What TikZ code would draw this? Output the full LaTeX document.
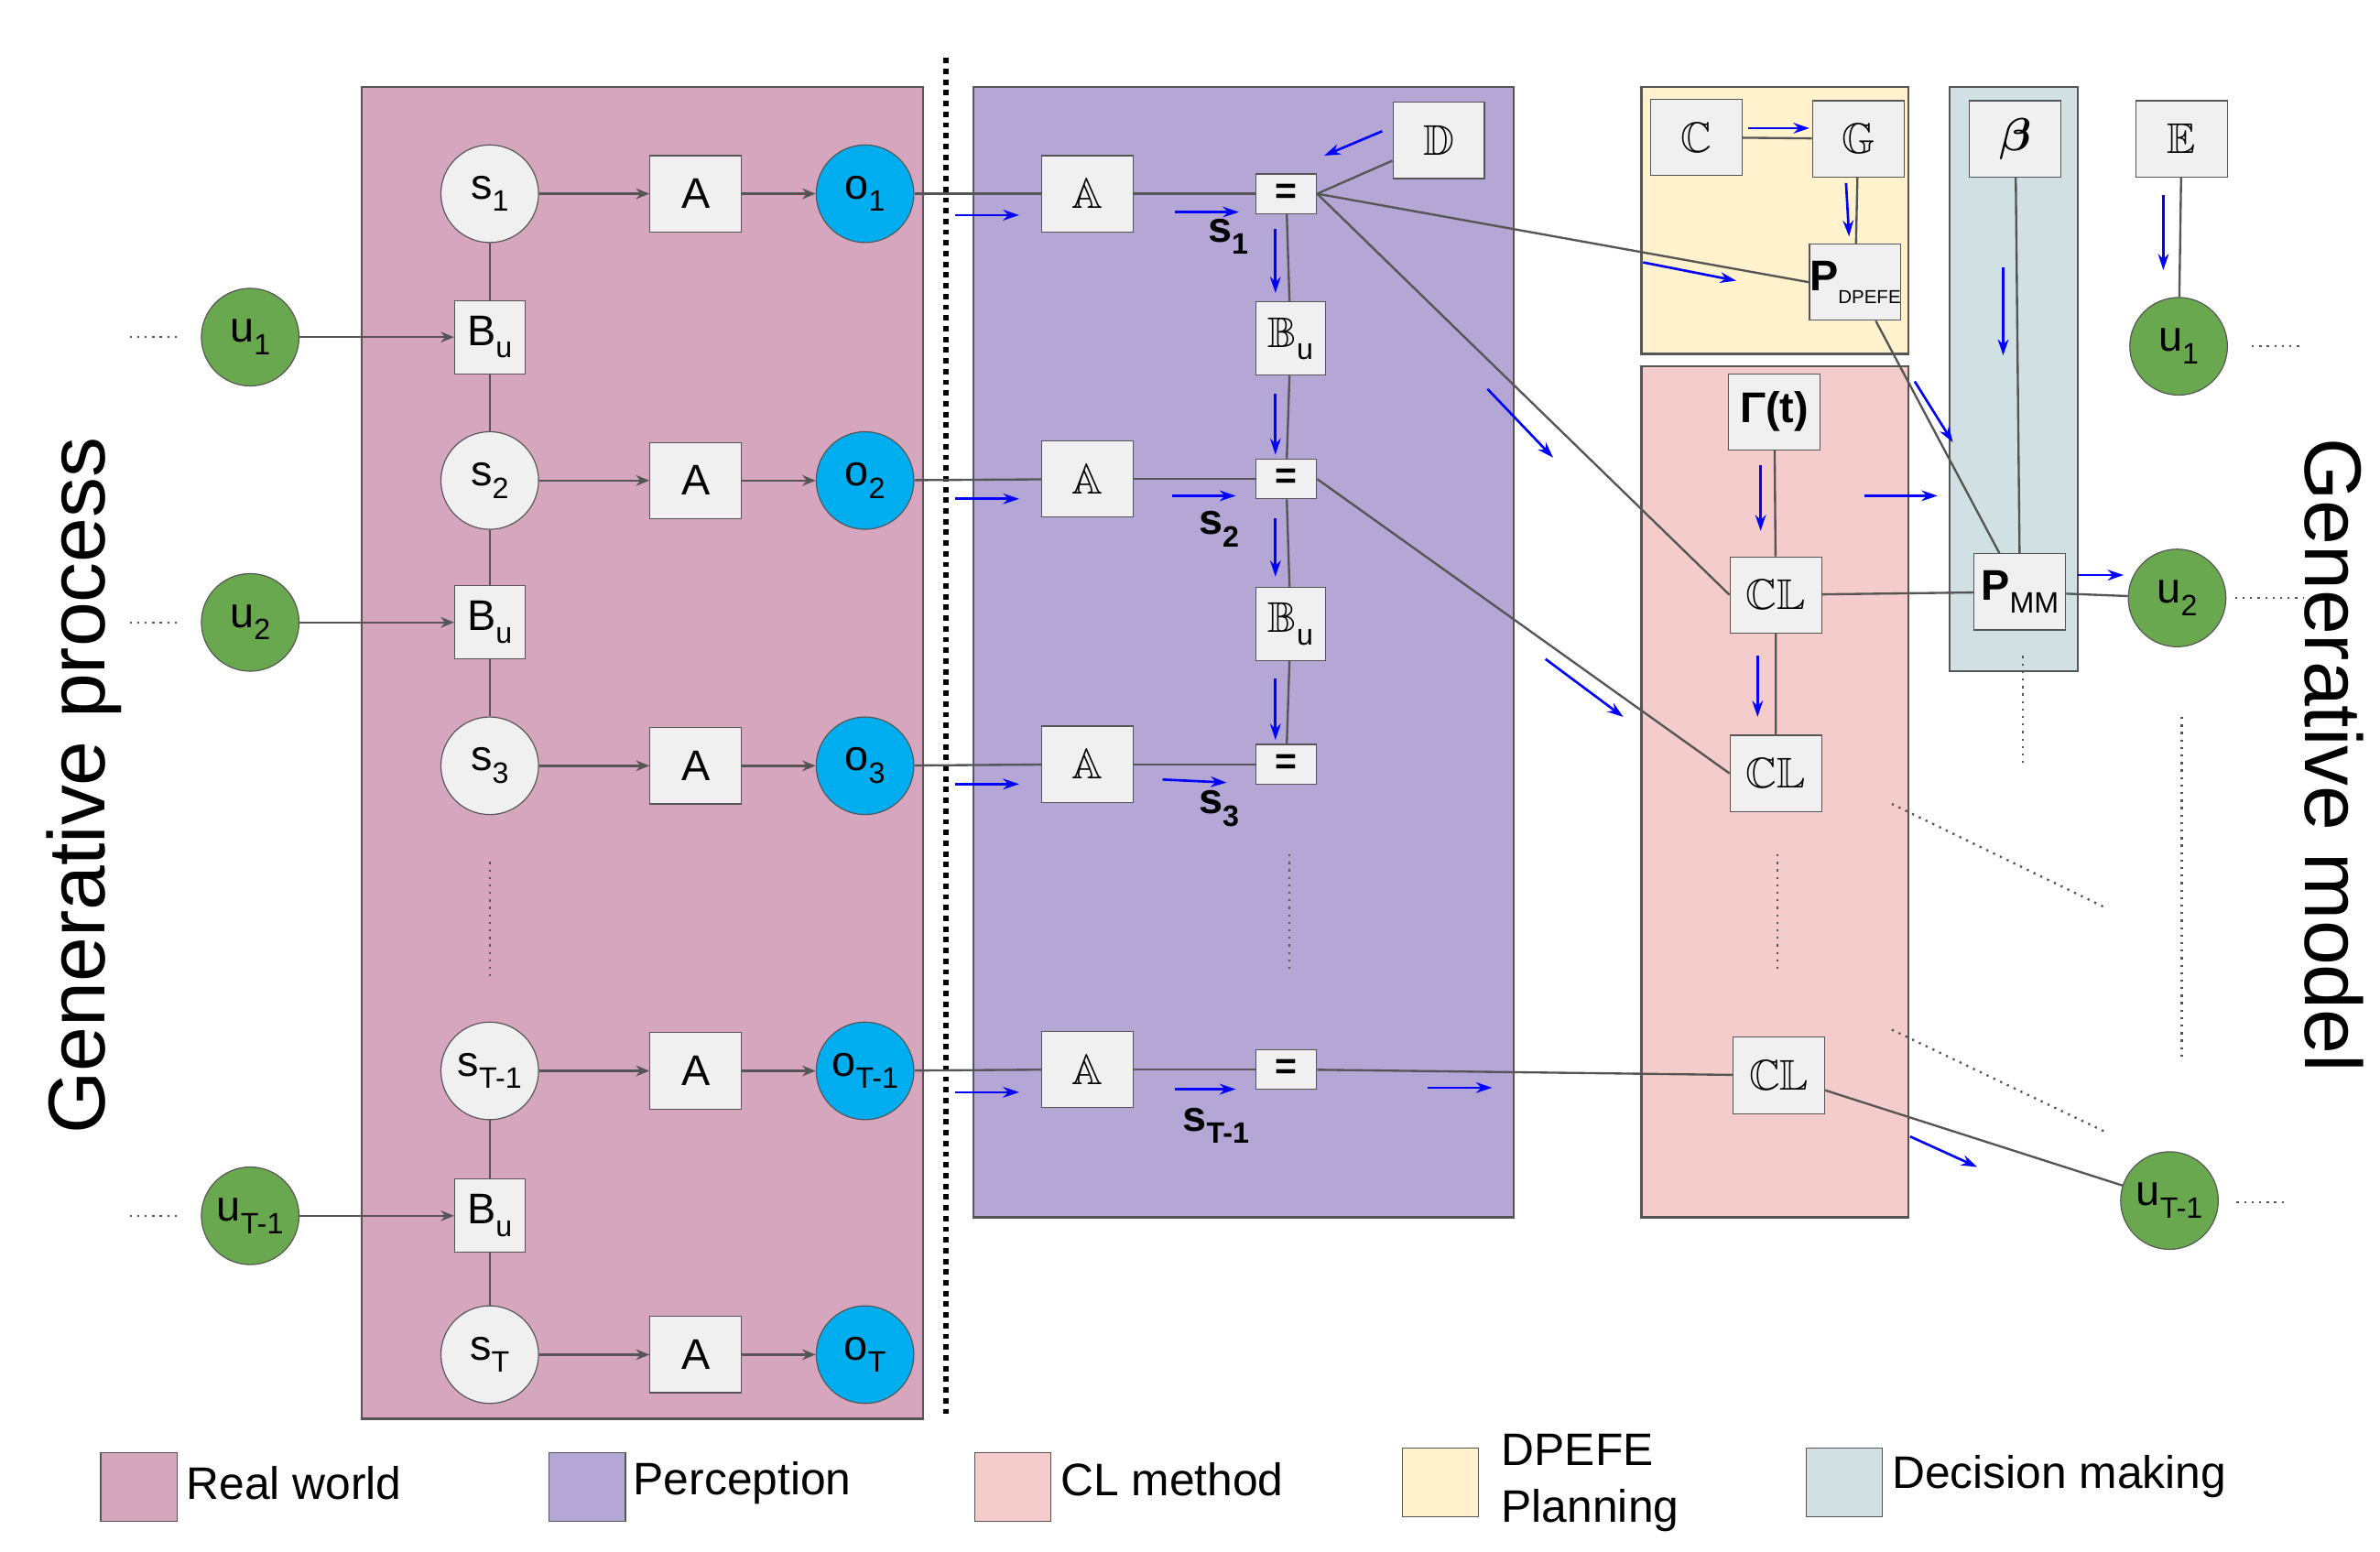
\documentclass[tikz,border=0pt]{standalone}
\usepackage{amsmath,amssymb,bm}
\usepackage{fontspec}
\setmainfont{Liberation Sans}
\usetikzlibrary{arrows.meta}
\newcommand\sbs[1]{\raisebox{-0.55ex}{\fontsize{11}{12}\selectfont #1}}
\definecolor{rw}{HTML}{D5A6BD}\definecolor{pc}{HTML}{B4A7D6}
\definecolor{cl}{HTML}{F4CCCC}\definecolor{dp}{HTML}{FFF2CC}
\definecolor{dm}{HTML}{D0E0E3}\definecolor{gr}{HTML}{6AA84F}
\definecolor{ln}{HTML}{555555}
\begin{document}
\begin{tikzpicture}[x=0.02cm,y=-0.02cm,font=\fontsize{16}{18}\selectfont,
 area/.style={draw=ln,line width=0.8pt},
 box/.style={draw=ln,fill=gray!12,minimum width=1.2cm,minimum height=1cm,inner sep=0pt},
 bbox/.style={box,minimum width=0.92cm,minimum height=0.96cm},
 eq/.style={draw=ln,fill=gray!12,minimum width=0.8cm,minimum height=0.52cm,inner sep=0pt,font=\bfseries\fontsize{14}{14}\selectfont},
 sc/.style={circle,draw=ln,fill=gray!12,minimum size=1.28cm,inner sep=0pt},
 oc/.style={circle,draw=ln,fill=cyan,minimum size=1.28cm,inner sep=0pt},
 uc/.style={circle,draw=ln,fill=gr,minimum size=1.28cm,inner sep=0pt},
 con/.style={ln,line width=0.8pt},
 ar/.style={con,-{Stealth[length=5pt,width=4pt]}},
 bl/.style={blue,line width=0.9pt,-{Stealth[length=6pt,width=4pt]}},
 dot/.style={ln,dotted,line width=0.8pt}]
\useasboundingbox (0,0) rectangle (1560,1017);
% areas
\draw[area,fill=rw] (237,57) rectangle (605,930);
\draw[area,fill=pc] (638,57) rectangle (992,798);
\draw[area,fill=cl] (1076,240) rectangle (1251,798);
\draw[area,fill=dp] (1076,57) rectangle (1251,232);
\draw[area,fill=dm] (1278,57) rectangle (1362,440);
\draw[line width=2pt,dotted] (620,38) -- (620,930);
% real world
\foreach \n/\y/\t in {1/127/1,2/315/2,3/502/3,4/702/T-1,5/888/T}{
 \node[sc] (s\n) at (321,\y) {s\sbs{\t}};
 \node[box] (a\n) at (456,\y) {A};
 \node[oc] (o\n) at (567,\y) {o\sbs{\t}};
 \draw[ar] (s\n) -- (a\n); \draw[ar] (a\n) -- (o\n);}
\foreach \n/\y/\t in {1/221/1,2/408/2,4/797/T-1}{
 \node[bbox] (b\n) at (321,\y) {B\sbs{u}};
 \node[uc] (u\n) at (164,\y) {u\sbs{\t}};
 \draw[ar] (u\n) -- (b\n);
 \coordinate (ud\n) at (85,\y); \coordinate (ue\n) at (118,\y);
 \draw[dot] (ud\n) -- (ue\n);}
\draw[con] (s1)--(b1)--(s2)--(b2)--(s3); \draw[con] (s4)--(b4)--(s5);
\coordinate (v1) at (321,565); \coordinate (v2) at (321,640); \draw[dot] (v1)--(v2);
% perception
\foreach \n/\y in {1/127,2/314,3/501,4/701}{
 \node[box] (pa\n) at (713,\y) {$\mathbb{A}$};
 \node[eq] (e\n) at (843,\y) {=};
 \draw[con] (o\n) -- (pa\n); \draw[con] (pa\n) -- (e\n);}
\node[font=\bfseries\fontsize{16}{18}\selectfont] at (805,155) {s\sbs{1}};
\node[font=\bfseries\fontsize{16}{18}\selectfont] at (799,347) {s\sbs{2}};
\node[font=\bfseries\fontsize{16}{18}\selectfont] at (799,530) {s\sbs{3}};
\node[font=\bfseries\fontsize{16}{18}\selectfont] at (797,738) {s\sbs{T-1}};
\node[bbox] (pb1) at (846,222) {$\mathbb{B}$\sbs{u}};
\node[bbox] (pb2) at (846,409) {$\mathbb{B}$\sbs{u}};
\draw[con] (e1)--(pb1)--(e2)--(pb2)--(e3);
\node[box] (D) at (943,92) {$\mathbb{D}$};
\draw[con] (D) -- (e1.east);
\coordinate (v3) at (845,560); \coordinate (v4) at (845,635); \draw[dot] (v3)--(v4);
% DPEFE
\node[box] (C) at (1112,90) {$\mathbb{C}$};
\node[box] (G) at (1218,91) {$\mathbb{G}$};
\node[box] (PD) at (1216,185) {\textbf{P}\sbs{\fontsize{7}{8}\selectfont DPEFE}};
\draw[con] (C)--(G); \draw[con] (G)--(PD);
% CL
\node[box] (Ga) at (1163,270) {\textbf{Γ(t)}};
\node[box] (CL1) at (1164,390) {$\mathbb{CL}$};
\node[box] (CL2) at (1164,507) {$\mathbb{CL}$};
\node[box] (CL3) at (1166,705) {$\mathbb{CL}$};
\draw[con] (Ga)--(CL1)--(CL2);
\coordinate (v5) at (1165,560); \coordinate (v6) at (1165,635); \draw[dot] (v5)--(v6);
% decision
\node[box] (be) at (1321,91) {$\bm{\beta}$};
\node[box] (PM) at (1324,388) {\textbf{P}\sbs{MM}};
\node[box] (E) at (1430,91) {$\mathbb{E}$};
\node[uc] (r1) at (1428,227) {u\sbs{1}};
\node[uc] (r2) at (1427,392) {u\sbs{2}};
\node[uc] (r3) at (1422,787) {u\sbs{T-1}};
\draw[con] (be)--(PM); \draw[con] (E)--(r1); \draw[con] (PM)--(r2);
\draw[con] (PD)--(PM); \draw[con] (CL1)--(PM);
\draw[con] (e1.east)--(PD.west); \draw[con] (e1.east)--(CL1.west);
\draw[con] (e2.east)--(CL2.west); \draw[con] (e4)--(CL3); \draw[con] (CL3)--(r3);
\foreach \a/\b/\c/\d in {1476/227/1510/227,1465/392/1510/392,1466/788/1500/788,1240/527/1380/595,1240/675/1380/742,1430/470/1430/695,1326/430/1326/500}{
 \coordinate (da) at (\a,\b); \coordinate (db) at (\c,\d); \draw[dot] (da)--(db);}
% blue arrows
\foreach \a/\b/\c/\d in {626/141/668/141,770/139/812/139,626/327/668/327,768/325/810/325,626/514/668/514,762/511/804/513,626/716/668/716,770/714/810/714,
836/150/836/192,836/258/836/298,836/340/836/378,836/445/836/485,906/86/868/102,
1077/172/1138/184,975/255/1018/300,1013/432/1064/470,1222/325/1270/325,1255/250/1280/290,1313/175/1313/233,1418/128/1418/177,1362/377/1392/377,
1154/305/1154/348,1152/430/1152/470,1210/120/1212/155,1146/84/1186/84,936/713/978/713,1252/745/1296/765}{
 \coordinate (ba) at (\a,\b); \coordinate (bb) at (\c,\d); \draw[bl] (ba)--(bb);}
% titles
\node[rotate=90,font=\fontsize{30}{32}\selectfont] (gp) at (55,515) {Generative process};
\node[rotate=-90,font=\fontsize{30}{32}\selectfont] (gm) at (1530,495) {Generative model};
% legend
\tikzset{lg/.style={draw=ln,minimum width=1cm,minimum height=0.9cm,inner sep=0pt},lt/.style={anchor=west,font=\fontsize{17}{21}\selectfont,align=left}}
\node[lg,fill=rw] (l1) at (91,975) {}; \node[lt] at (116,972) {Real world};
\node[lg,fill=pc] (l2) at (385,975) {}; \node[lt] at (409,972) {Perception};
\node[lg,fill=cl] (l3) at (664,975) {}; \node[lt] at (689,970) {CL method};
\node[lg,fill=dp] (l4) at (944,972) {}; \node[lt] at (978,972) {DPEFE\\Planning};
\node[lg,fill=dm] (l5) at (1209,972) {}; \node[lt] at (1234,968) {Decision making};
\end{tikzpicture}
\end{document}
